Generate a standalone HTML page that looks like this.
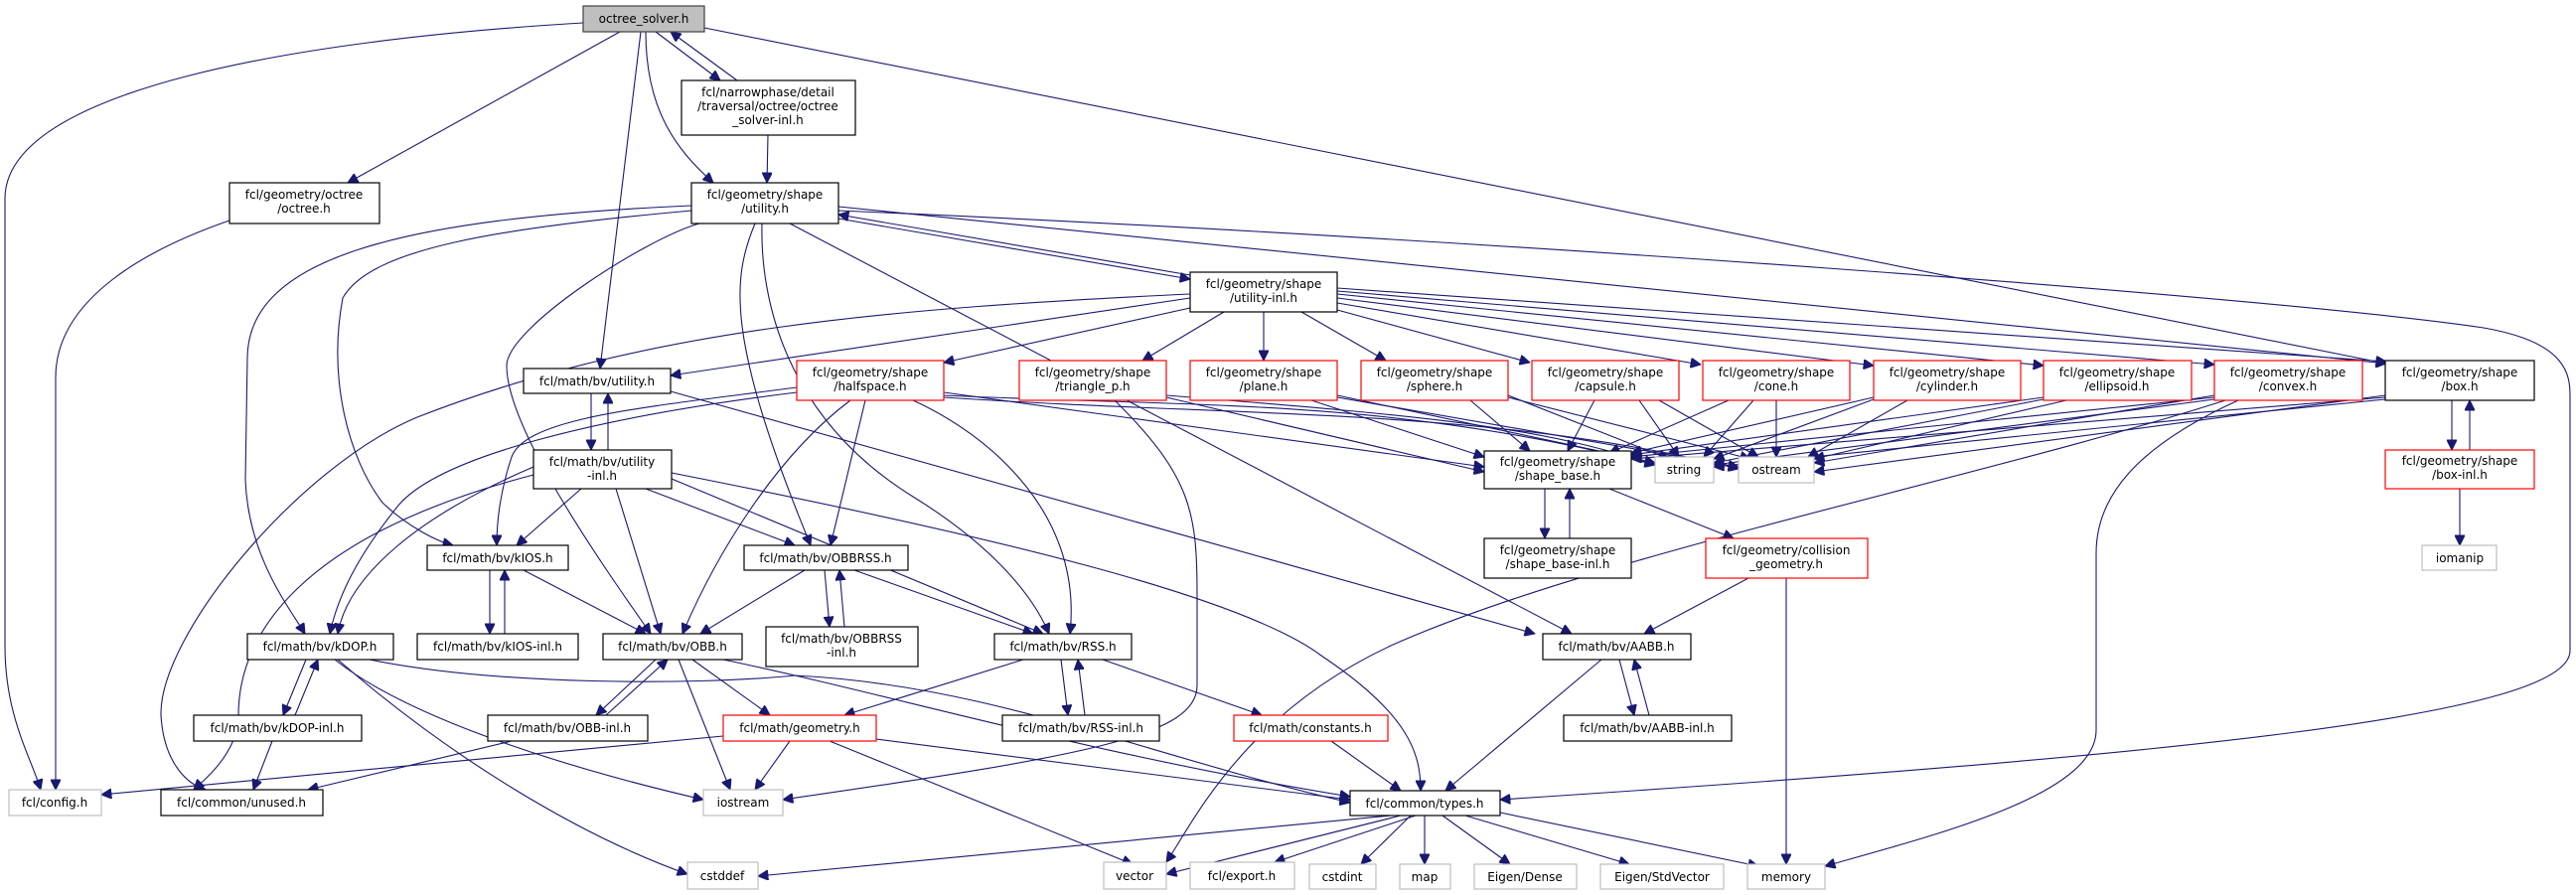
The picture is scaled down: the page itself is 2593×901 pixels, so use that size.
<!DOCTYPE html>
<html><head><meta charset="utf-8"><style>
html,body{margin:0;padding:0;background:#fff;}
svg{display:block}
text{font-family:"DejaVu Sans","Liberation Sans",sans-serif;font-size:12px;fill:#000;text-anchor:middle}
.e{fill:none;stroke:#191970;stroke-width:1.1;marker-end:url(#a)}
.n{fill:#fff;stroke:#000;stroke-width:1.2}
.r{fill:#fff;stroke:#ff0000;stroke-width:1.2}
.g{fill:#fff;stroke:#bfbfbf;stroke-width:1.2}
</style></head><body>
<svg width="2593" height="901" viewBox="0 0 2593 901" xmlns="http://www.w3.org/2000/svg">
<defs><marker id="a" viewBox="0 0 10 10" refX="10" refY="5" markerUnits="userSpaceOnUse" markerWidth="11" markerHeight="10" orient="auto"><path d="M0,0 L10,5 L0,10 z" fill="#191970" stroke="#191970"/></marker></defs>

<!-- edges -->
<path class="e" d="M587,23 C300,40 5,90 5,200 L5,650 C5,720 30,760 41,795"/>
<path class="e" d="M624,32 L350,184"/>
<path class="e" d="M645,32 L604,371"/>
<path class="e" d="M660,32 L725,81"/>
<path class="e" d="M742,81 L675,32"/>
<path class="e" d="M650,32 C650,110 680,150 718,184"/>
<path class="e" d="M709,28 L2402,366"/>
<path class="e" d="M773,136 L772,184"/>
<path class="e" d="M844,220 L1198,281"/>
<path class="e" d="M1198,277 L844,216"/>
<path class="e" d="M844,208 L2402,366"/>
<path class="e" d="M844,212 C1500,240 2300,300 2500,330 C2587,345 2587,380 2587,400 L2587,655 C2587,720 2200,760 1510,805"/>
<path class="e" d="M696,207 C400,220 250,260 249,360 L247,483 C250,560 290,610 307,638"/>
<path class="e" d="M696,212 C500,230 373,250 345,300 C330,380 350,460 385,506 C410,530 440,545 456,549"/>
<path class="e" d="M704,225 C650,240 510,330 510,368 C510,430 600,560 655,638"/>
<path class="e" d="M760,225 C737,280 730,340 816,549"/>
<path class="e" d="M767,225 C765,300 790,420 919,500 C1000,550 1040,600 1056,638"/>
<path class="e" d="M795,225 L1582,638"/>
<path class="e" d="M1198,296 C900,310 650,330 420,420 C300,470 160,640 162,720 C165,770 190,790 207,795"/>
<path class="e" d="M1198,310 L950,365"/>
<path class="e" d="M1232,314 L1150,363"/>
<path class="e" d="M1272,314 L1272,363"/>
<path class="e" d="M1310,314 L1395,363"/>
<path class="e" d="M1346,312 L1540,365"/>
<path class="e" d="M1346,305 L1712,367"/>
<path class="e" d="M1346,300 L1886,368"/>
<path class="e" d="M1346,296 L2057,368"/>
<path class="e" d="M1346,293 L2229,367"/>
<path class="e" d="M1346,290 L2402,364"/>
<path class="e" d="M1198,300 L675,378"/>
<path class="e" d="M950,395 L1494,470"/>
<path class="e" d="M950,398 C1200,410 1400,400 1666,468"/>
<path class="e" d="M950,400 C1250,420 1500,410 1750,472"/>
<path class="e" d="M802,390 C650,410 530,420 515,460 C505,490 500,520 500,549"/>
<path class="e" d="M802,395 C600,420 440,460 400,510 C360,560 340,600 332,638"/>
<path class="e" d="M856,403 C780,460 720,560 687,638"/>
<path class="e" d="M871,403 L836,549"/>
<path class="e" d="M919,403 C1000,440 1090,520 1077,638"/>
<path class="e" d="M1122,403 C1200,480 1205,517 1205,600 L1205,690 C1205,740 1100,760 788,805"/>
<path class="e" d="M1174,400 L1494,475"/>
<path class="e" d="M1174,398 C1450,420 1550,430 1666,468"/>
<path class="e" d="M1320,403 L1494,460"/>
<path class="e" d="M1346,398 L1666,466"/>
<path class="e" d="M1346,400 L1750,470"/>
<path class="e" d="M1480,403 L1540,454"/>
<path class="e" d="M1518,398 L1680,462"/>
<path class="e" d="M1518,400 L1762,462"/>
<path class="e" d="M1605,403 L1578,454"/>
<path class="e" d="M1650,403 L1690,460"/>
<path class="e" d="M1670,403 L1770,460"/>
<path class="e" d="M1740,403 L1620,456"/>
<path class="e" d="M1765,403 L1715,460"/>
<path class="e" d="M1788,403 L1788,460"/>
<path class="e" d="M1886,400 L1642,456"/>
<path class="e" d="M1886,402 L1725,462"/>
<path class="e" d="M1920,403 L1820,460"/>
<path class="e" d="M2057,400 L1642,458"/>
<path class="e" d="M2057,402 L1725,466"/>
<path class="e" d="M2080,403 L1826,462"/>
<path class="e" d="M2229,400 L1642,460"/>
<path class="e" d="M2229,402 L1725,468"/>
<path class="e" d="M2229,398 L1826,466"/>
<path class="e" d="M2240,403 C2000,480 1600,560 1400,650 C1250,720 1200,830 1174,868"/>
<path class="e" d="M2253,403 C2150,450 2110,500 2110,557 L2110,735 C2110,800 1950,840 1837,872"/>
<path class="e" d="M2401,400 L1642,462"/>
<path class="e" d="M2401,402 L1725,470"/>
<path class="e" d="M2401,398 L1826,475"/>
<path class="e" d="M1555,492 L1555,542"/>
<path class="e" d="M1580,542 L1580,492"/>
<path class="e" d="M1620,492 L1745,542"/>
<path class="e" d="M1760,582 L1655,638"/>
<path class="e" d="M1798,582 L1798,870"/>
<path class="e" d="M2468,403 L2468,453"/>
<path class="e" d="M2486,453 L2486,403"/>
<path class="e" d="M2476,492 L2476,549"/>
<path class="e" d="M595,396 L595,453"/>
<path class="e" d="M612,453 L612,396"/>
<path class="e" d="M675,394 L1545,638"/>
<path class="e" d="M585,492 L520,549"/>
<path class="e" d="M537,470 C420,520 350,580 340,638"/>
<path class="e" d="M537,478 C300,540 240,640 240,720 C240,760 200,790 195,795"/>
<path class="e" d="M620,492 L665,638"/>
<path class="e" d="M650,492 L800,549"/>
<path class="e" d="M676,482 L1050,638"/>
<path class="e" d="M676,476 C1000,540 1250,600 1330,660 C1420,720 1430,760 1430,796"/>
<path class="e" d="M493,574 L493,638"/>
<path class="e" d="M508,638 L508,574"/>
<path class="e" d="M527,574 L650,638"/>
<path class="e" d="M810,574 L705,638"/>
<path class="e" d="M860,574 L1040,638"/>
<path class="e" d="M830,574 L835,631"/>
<path class="e" d="M850,631 L845,574"/>
<path class="e" d="M308,664 L285,720"/>
<path class="e" d="M297,720 L320,664"/>
<path class="e" d="M372,664 C500,690 700,690 800,680 C1000,690 1150,760 1359,808"/>
<path class="e" d="M337,664 C420,730 600,780 708,805"/>
<path class="e" d="M340,664 C450,760 580,840 692,880"/>
<path class="e" d="M274,746 L255,795"/>
<path class="e" d="M660,664 L600,720"/>
<path class="e" d="M610,720 L672,664"/>
<path class="e" d="M697,664 L775,720"/>
<path class="e" d="M683,664 L735,795"/>
<path class="e" d="M728,664 C900,700 1100,760 1359,802"/>
<path class="e" d="M515,746 L310,795"/>
<path class="e" d="M728,741 L102,800"/>
<path class="e" d="M795,746 L760,795"/>
<path class="e" d="M835,746 L1140,870"/>
<path class="e" d="M882,744 L1359,805"/>
<path class="e" d="M1030,664 L850,720"/>
<path class="e" d="M1068,664 L1075,720"/>
<path class="e" d="M1092,720 L1085,664"/>
<path class="e" d="M1110,664 L1270,720"/>
<path class="e" d="M1340,746 L1410,796"/>
<path class="e" d="M1630,664 L1645,720"/>
<path class="e" d="M1660,720 L1645,664"/>
<path class="e" d="M1612,664 L1455,796"/>
<path class="e" d="M1400,821 L763,882"/>
<path class="e" d="M1410,821 L1174,880"/>
<path class="e" d="M1425,821 L1283,868"/>
<path class="e" d="M1420,821 L1370,870"/>
<path class="e" d="M1434,821 L1434,870"/>
<path class="e" d="M1452,821 L1520,870"/>
<path class="e" d="M1475,821 L1640,870"/>
<path class="e" d="M1510,818 L1770,872"/>
<path class="e" d="M231,222 C150,250 56,300 56,380 L56,795"/>

<!-- nodes -->
<rect x="587" y="6" width="122" height="26" fill="#bfbfbf" stroke="#404040" stroke-width="1.2"/><text x="648" y="23">octree_solver.h</text>
<rect class="n" x="686" y="81" width="175" height="55"/><text x="773" y="97">fcl/narrowphase/detail</text><text x="773" y="111">/traversal/octree/octree</text><text x="773" y="125">_solver-inl.h</text>
<rect class="n" x="231" y="184" width="151" height="41"/><text x="306" y="200">fcl/geometry/octree</text><text x="306" y="214">/octree.h</text>
<rect class="n" x="696" y="184" width="148" height="41"/><text x="770" y="200">fcl/geometry/shape</text><text x="770" y="214">/utility.h</text>
<rect class="n" x="1198" y="274" width="148" height="40"/><text x="1272" y="290">fcl/geometry/shape</text><text x="1272" y="304">/utility-inl.h</text>
<rect class="n" x="527" y="371" width="148" height="25"/><text x="601" y="388">fcl/math/bv/utility.h</text>
<rect class="r" x="802" y="363" width="148" height="40"/><text x="876" y="379">fcl/geometry/shape</text><text x="876" y="393">/halfspace.h</text>
<rect class="r" x="1026" y="363" width="148" height="40"/><text x="1100" y="379">fcl/geometry/shape</text><text x="1100" y="393">/triangle_p.h</text>
<rect class="r" x="1198" y="363" width="148" height="40"/><text x="1272" y="379">fcl/geometry/shape</text><text x="1272" y="393">/plane.h</text>
<rect class="r" x="1370" y="363" width="148" height="40"/><text x="1444" y="379">fcl/geometry/shape</text><text x="1444" y="393">/sphere.h</text>
<rect class="r" x="1542" y="363" width="148" height="40"/><text x="1616" y="379">fcl/geometry/shape</text><text x="1616" y="393">/capsule.h</text>
<rect class="r" x="1714" y="363" width="148" height="40"/><text x="1788" y="379">fcl/geometry/shape</text><text x="1788" y="393">/cone.h</text>
<rect class="r" x="1886" y="363" width="148" height="40"/><text x="1960" y="379">fcl/geometry/shape</text><text x="1960" y="393">/cylinder.h</text>
<rect class="r" x="2057" y="363" width="149" height="40"/><text x="2131" y="379">fcl/geometry/shape</text><text x="2131" y="393">/ellipsoid.h</text>
<rect class="r" x="2229" y="363" width="149" height="40"/><text x="2303" y="379">fcl/geometry/shape</text><text x="2303" y="393">/convex.h</text>
<rect class="n" x="2401" y="363" width="150" height="40"/><text x="2476" y="379">fcl/geometry/shape</text><text x="2476" y="393">/box.h</text>
<rect class="n" x="537" y="453" width="139" height="39"/><text x="606" y="469">fcl/math/bv/utility</text><text x="606" y="483">-inl.h</text>
<rect class="g" x="1666" y="460" width="59" height="26"/><text x="1695" y="477">string</text>
<rect class="g" x="1750" y="460" width="76" height="26"/><text x="1788" y="477">ostream</text>
<rect class="n" x="1494" y="454" width="148" height="38"/><text x="1568" y="469">fcl/geometry/shape</text><text x="1568" y="483">/shape_base.h</text>
<rect class="r" x="2401" y="453" width="150" height="39"/><text x="2476" y="468">fcl/geometry/shape</text><text x="2476" y="482">/box-inl.h</text>
<rect class="n" x="430" y="549" width="142" height="25"/><text x="501" y="566">fcl/math/bv/kIOS.h</text>
<rect class="n" x="749" y="549" width="165" height="25"/><text x="831" y="566">fcl/math/bv/OBBRSS.h</text>
<rect class="n" x="1494" y="542" width="148" height="40"/><text x="1568" y="558">fcl/geometry/shape</text><text x="1568" y="572">/shape_base-inl.h</text>
<rect class="r" x="1717" y="542" width="163" height="40"/><text x="1798" y="558">fcl/geometry/collision</text><text x="1798" y="572">_geometry.h</text>
<rect class="g" x="2438" y="549" width="75" height="25"/><text x="2476" y="566">iomanip</text>
<rect class="n" x="249" y="638" width="147" height="26"/><text x="322" y="655">fcl/math/bv/kDOP.h</text>
<rect class="n" x="420" y="638" width="162" height="26"/><text x="501" y="655">fcl/math/bv/kIOS-inl.h</text>
<rect class="n" x="607" y="638" width="140" height="26"/><text x="677" y="655">fcl/math/bv/OBB.h</text>
<rect class="n" x="771" y="631" width="153" height="40"/><text x="847" y="647">fcl/math/bv/OBBRSS</text><text x="847" y="661">-inl.h</text>
<rect class="n" x="1001" y="638" width="138" height="26"/><text x="1070" y="655">fcl/math/bv/RSS.h</text>
<rect class="n" x="1553" y="638" width="149" height="26"/><text x="1627" y="655">fcl/math/bv/AABB.h</text>
<rect class="n" x="195" y="720" width="169" height="26"/><text x="279" y="737">fcl/math/bv/kDOP-inl.h</text>
<rect class="n" x="491" y="720" width="161" height="26"/><text x="571" y="737">fcl/math/bv/OBB-inl.h</text>
<rect class="r" x="728" y="720" width="154" height="26"/><text x="805" y="737">fcl/math/geometry.h</text>
<rect class="n" x="1009" y="720" width="158" height="26"/><text x="1088" y="737">fcl/math/bv/RSS-inl.h</text>
<rect class="r" x="1242" y="720" width="155" height="26"/><text x="1319" y="737">fcl/math/constants.h</text>
<rect class="n" x="1574" y="720" width="169" height="26"/><text x="1658" y="737">fcl/math/bv/AABB-inl.h</text>
<rect class="g" x="9" y="795" width="93" height="26"/><text x="55" y="812">fcl/config.h</text>
<rect class="n" x="162" y="795" width="163" height="26"/><text x="243" y="812">fcl/common/unused.h</text>
<rect class="g" x="708" y="795" width="80" height="26"/><text x="748" y="812">iostream</text>
<rect class="n" x="1359" y="796" width="151" height="25"/><text x="1434" y="813">fcl/common/types.h</text>
<rect class="g" x="692" y="868" width="71" height="27"/><text x="727" y="886">cstddef</text>
<rect class="g" x="1111" y="868" width="63" height="27"/><text x="1142" y="886">vector</text>
<rect class="g" x="1198" y="868" width="105" height="27"/><text x="1250" y="886">fcl/export.h</text>
<rect class="g" x="1318" y="870" width="67" height="25"/><text x="1351" y="887">cstdint</text>
<rect class="g" x="1409" y="870" width="51" height="25"/><text x="1434" y="887">map</text>
<rect class="g" x="1484" y="870" width="103" height="25"/><text x="1535" y="887">Eigen/Dense</text>
<rect class="g" x="1611" y="870" width="124" height="25"/><text x="1673" y="887">Eigen/StdVector</text>
<rect class="g" x="1759" y="870" width="78" height="25"/><text x="1798" y="887">memory</text>
</svg>
</body></html>
